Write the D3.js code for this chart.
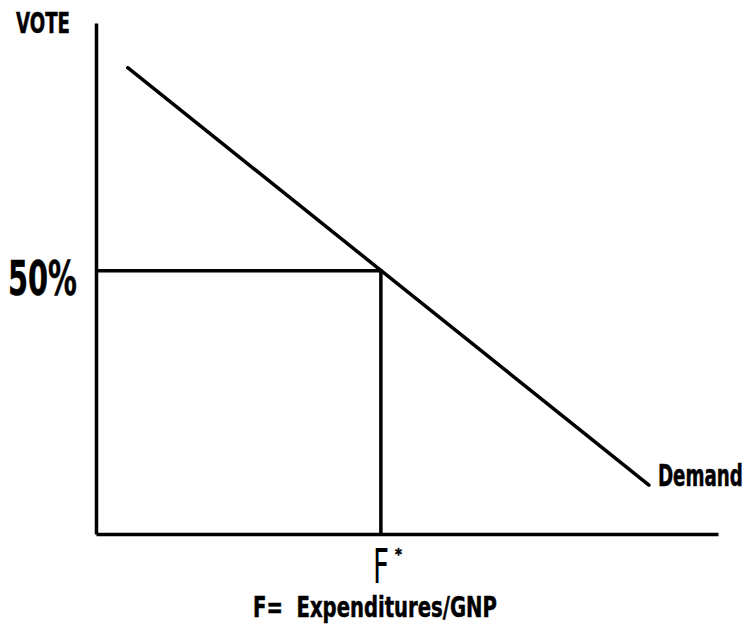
<!DOCTYPE html>
<html>
<head>
<meta charset="utf-8">
<script src="https://cdn.jsdelivr.net/npm/d3@7"></script>
<style>
  body { margin: 0; background: #fff; }
  svg { display: block; }
  .lbl { font-family: "DejaVu Sans Condensed", "Liberation Sans Narrow", sans-serif; font-weight: bold; fill: #000; stroke: #000; stroke-width: 0.5px; white-space: pre; }
</style>
</head>
<body>
<div id="chart"></div>
<script>
// data: demand line end points (F = expenditures/GNP, vote %)
var demandF = [5.1, 88.9];
var demandVote = [88.6, 9.3];
// equilibrium point
var fStar = 45.8;
var voteStar = 50;
var yTickLabels = ["50%"];
var xTickLabels = ["F"];

var width = 746, height = 625;

var svg = d3.select("#chart").append("svg")
    .attr("width", width)
    .attr("height", height);

var x = d3.scaleLinear().domain([0, 100]).range([96, 718]);
var y = d3.scaleLinear().domain([0, 97.1]).range([534, 23]);

// axes, no ticks, just the lines
svg.append("g")
    .attr("transform", "translate(" + x(0) + ",0)")
    .call(d3.axisLeft(y).tickValues([]).tickSizeOuter(0))
    .call(g => g.select(".domain").attr("stroke", "#000").attr("stroke-width", 3.5));

svg.append("g")
    .attr("transform", "translate(0," + y(0) + ")")
    .call(d3.axisBottom(x).tickValues([]).tickSizeOuter(0))
    .call(g => g.select(".domain").attr("stroke", "#000").attr("stroke-width", 3.5));

// guide lines to 50%
svg.append("path")
    .attr("d", d3.line()([[x(0), y(voteStar)], [x(fStar), y(voteStar)], [x(fStar), y(0)]]))
    .attr("fill", "none")
    .attr("stroke", "#000")
    .attr("stroke-width", 3.5);

// demand line
var pts = demandF.map((f, i) => [x(f), y(demandVote[i])]);
svg.append("path")
    .attr("d", d3.line()(pts))
    .attr("fill", "none")
    .attr("stroke", "#000")
    .attr("stroke-width", 3.5)
    .attr("stroke-linecap", "round");

// labels, squeezed sideways to look like the condensed type of the original
function label(txt, xx, yy, size, len, weight) {
    var t = svg.append("text").attr("class", "lbl")
        .style("font-size", size + "px")
        .style("font-weight", weight || "bold")
        .text(txt);
    var sx = len / t.node().getComputedTextLength();
    t.attr("transform", "translate(" + xx + "," + yy + ") scale(" + sx + ",1)");
    return t;
}

label("VOTE", 16, 33, 29, 54);
label(yTickLabels[0], 8, y(voteStar) + 24, 48, 69);
label("Demand", pts[1][0] + 9, pts[1][1] + 1, 30, 85);
label("F=  Expenditures/GNP", 253, 617, 28, 244);

// F* : thin F with a small raised asterisk
label(xTickLabels[0], x(fStar) - 8, 583, 48, 16, "normal").style("stroke-width", "0px");
label("*", x(fStar) + 14, 560, 15, 7);
</script>
</body>
</html>
